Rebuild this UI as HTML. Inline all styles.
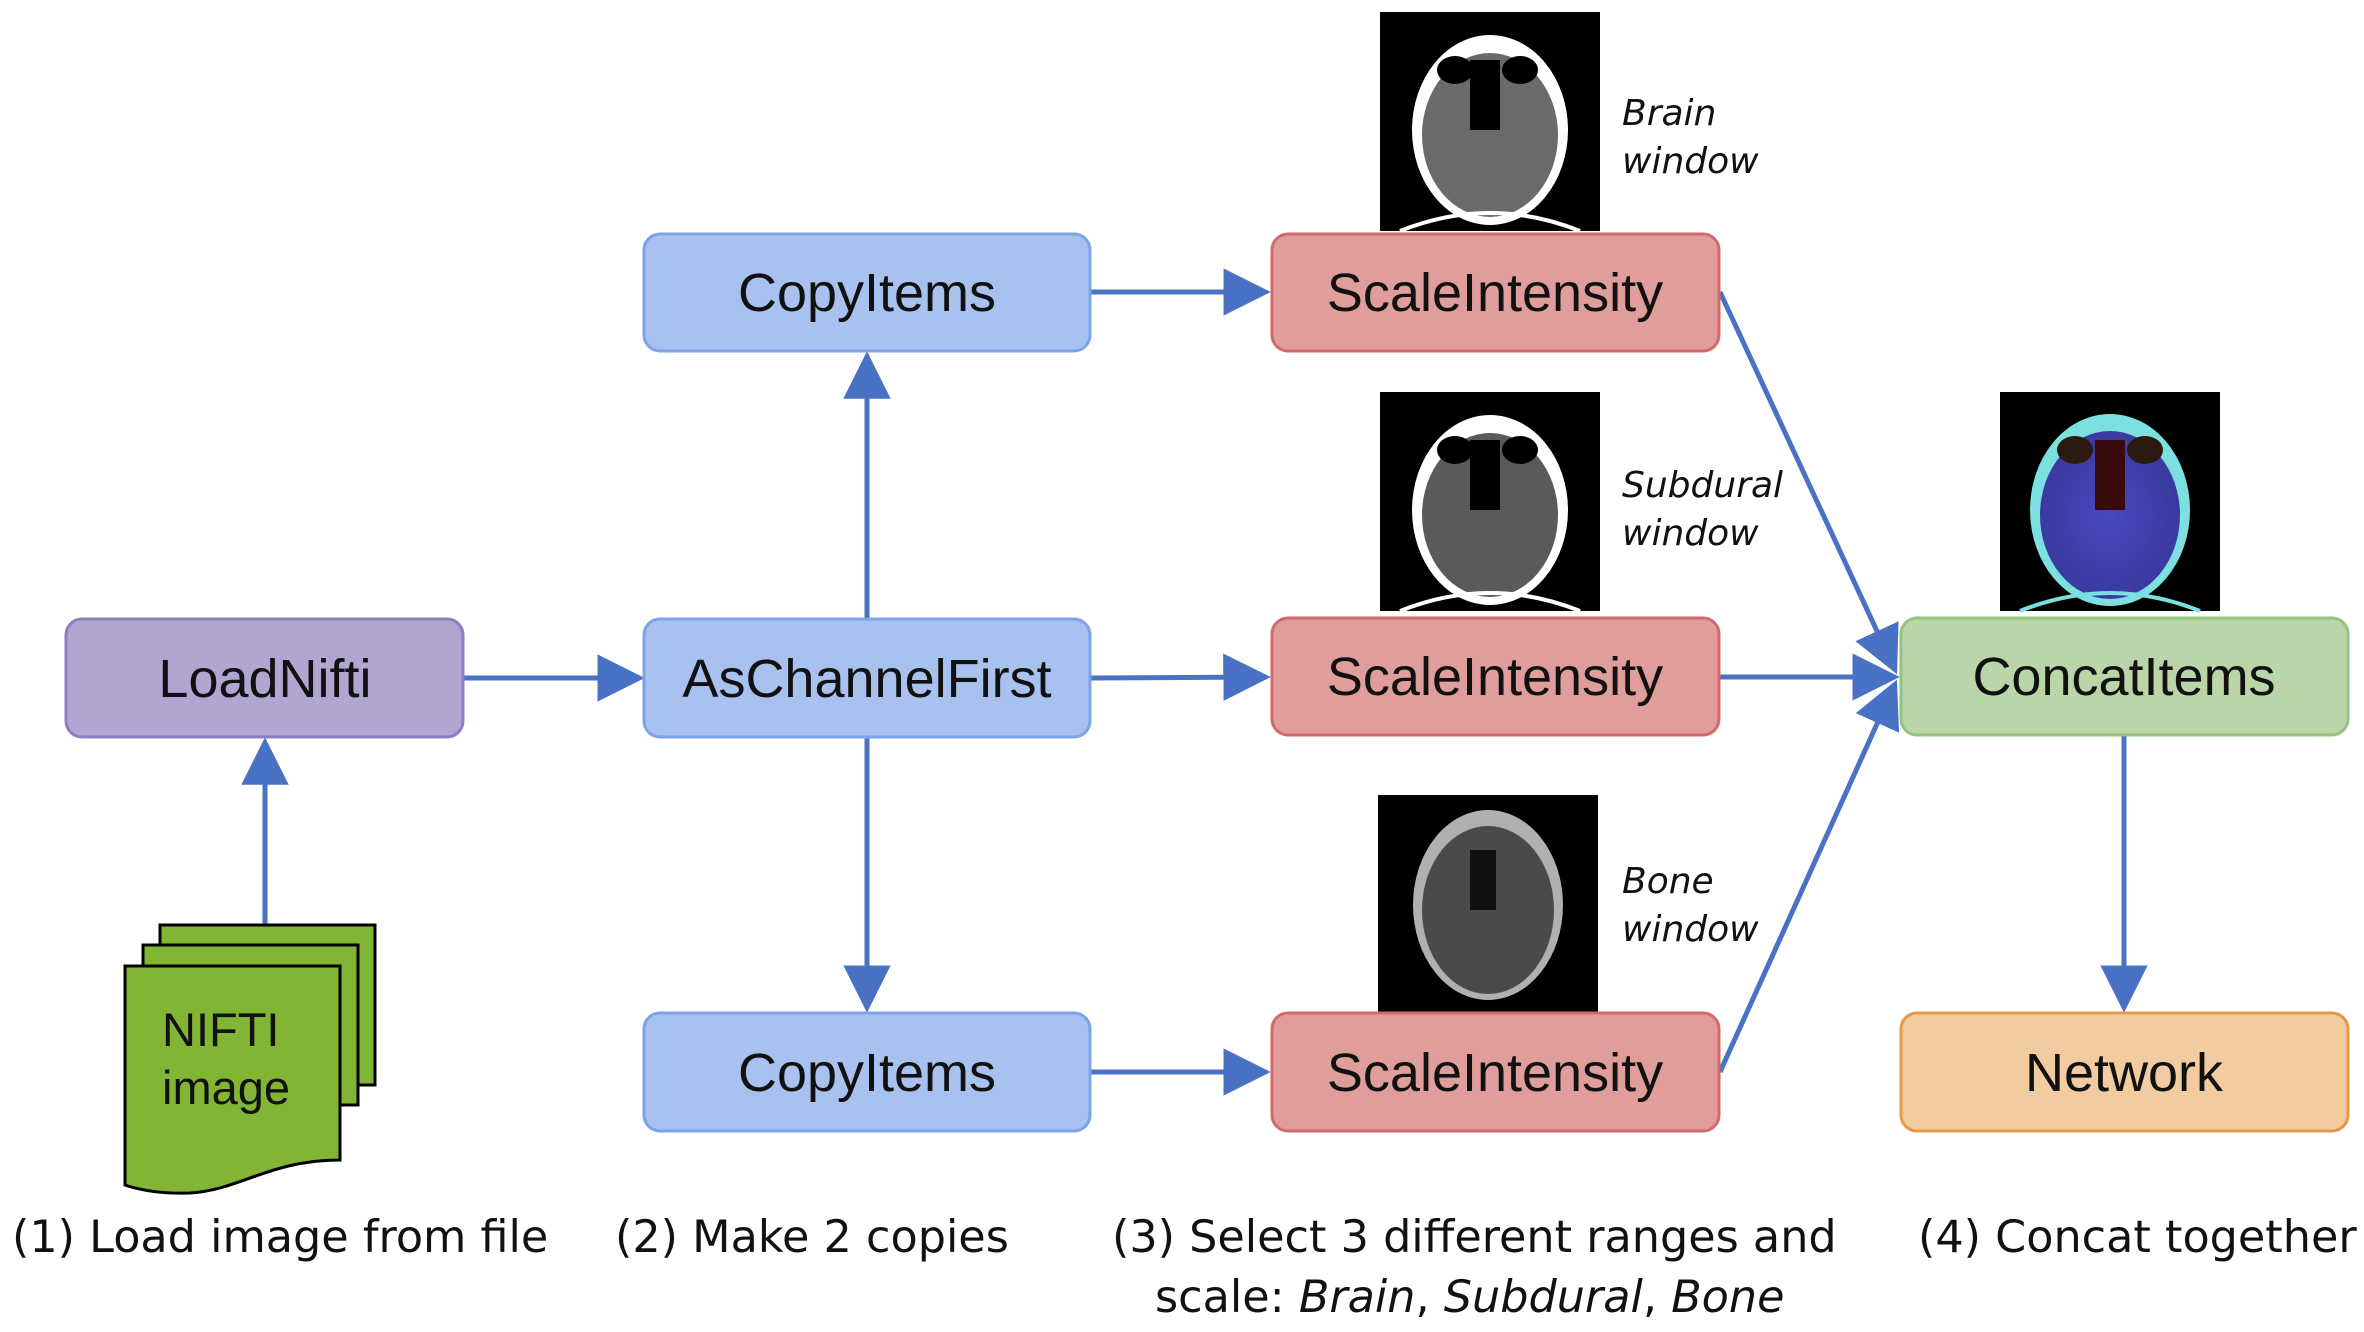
<!DOCTYPE html>
<html><head><meta charset="utf-8"><style>
body{margin:0;background:#fff;}
svg{display:block}
.b{font-family:"Liberation Sans",Arial,sans-serif;font-size:54px;fill:#111;text-anchor:middle;dominant-baseline:central}
.c{font-family:"DejaVu Sans",sans-serif;font-size:44.5px;fill:#111}
.i{font-family:"DejaVu Sans",sans-serif;font-size:36px;font-style:italic;fill:#111}
</style></head><body>
<svg width="2364" height="1332" viewBox="0 0 2364 1332" xmlns="http://www.w3.org/2000/svg">
<defs>
<marker id="ah" viewBox="0 0 10 10" refX="9" refY="5" markerWidth="9.5" markerHeight="9.5" orient="auto"><path d="M0,0 L10,5 L0,10 z" fill="#4a72c4"/></marker>
<radialGradient id="g2"><stop offset="0" stop-color="#4848c0"/><stop offset="1" stop-color="#3a3aa0"/></radialGradient>
</defs>
<g stroke="#4a72c4" stroke-width="5" fill="none" marker-end="url(#ah)">
<line x1="463" y1="678" x2="640" y2="678"/>
<line x1="265" y1="925" x2="265" y2="742"/>
<line x1="867" y1="618" x2="867" y2="356"/>
<line x1="867" y1="737" x2="867" y2="1008"/>
<line x1="1090" y1="292" x2="1266" y2="292"/>
<line x1="1090" y1="678" x2="1266" y2="677"/>
<line x1="1090" y1="1072" x2="1266" y2="1072"/>
<line x1="1720" y1="292" x2="1895" y2="670"/>
<line x1="1720" y1="677" x2="1895" y2="677"/>
<line x1="1720" y1="1072" x2="1895" y2="684"/>
<line x1="2124" y1="734" x2="2124" y2="1008"/>
</g>
<g>
<rect x="1380" y="12" width="220" height="219" fill="#000"/>
<ellipse cx="1490" cy="130" rx="78" ry="95" fill="#fff"/><ellipse cx="1490" cy="135" rx="68" ry="82" fill="#6a6a6a"/>
<rect x="1470" y="60" width="30" height="70" fill="#000"/><ellipse cx="1455" cy="70" rx="18" ry="14" fill="#000"/><ellipse cx="1520" cy="70" rx="18" ry="14" fill="#000"/>
<path d="M1400,231 Q1490,195 1580,231" stroke="#fff" stroke-width="4" fill="none"/>
<rect x="1380" y="392" width="220" height="219" fill="#000"/>
<ellipse cx="1490" cy="510" rx="78" ry="95" fill="#fff"/><ellipse cx="1490" cy="515" rx="68" ry="82" fill="#5a5a5a"/>
<rect x="1470" y="440" width="30" height="70" fill="#000"/><ellipse cx="1455" cy="450" rx="18" ry="14" fill="#000"/><ellipse cx="1520" cy="450" rx="18" ry="14" fill="#000"/>
<path d="M1400,611 Q1490,575 1580,611" stroke="#fff" stroke-width="4" fill="none"/>
<rect x="1378" y="795" width="220" height="217" fill="#000"/>
<ellipse cx="1488" cy="905" rx="75" ry="95" fill="#b0b0b0"/><ellipse cx="1488" cy="910" rx="66" ry="84" fill="#4a4a4a"/>
<rect x="1470" y="850" width="26" height="60" fill="#111"/>
<rect x="2000" y="392" width="220" height="219" fill="#000"/>
<ellipse cx="2110" cy="510" rx="80" ry="96" fill="#7de0e0"/><ellipse cx="2110" cy="515" rx="70" ry="84" fill="url(#g2)"/>
<rect x="2095" y="440" width="30" height="70" fill="#3a0a0a"/><ellipse cx="2075" cy="450" rx="18" ry="14" fill="#2a1a10"/><ellipse cx="2145" cy="450" rx="18" ry="14" fill="#2a1a10"/>
<path d="M2020,611 Q2110,575 2200,611" stroke="#7de0e0" stroke-width="4" fill="none"/>
</g>
<g stroke-width="3">
<rect x="66" y="619" width="397" height="118" rx="16" fill="#b1a6d2" stroke="#8e7fc0"/>
<rect x="644" y="619" width="446" height="118" rx="16" fill="#a9c1ef" stroke="#7da2e8"/>
<rect x="644" y="234" width="446" height="117" rx="16" fill="#a9c1ef" stroke="#7da2e8"/>
<rect x="644" y="1013" width="446" height="118" rx="16" fill="#a9c1ef" stroke="#7da2e8"/>
<rect x="1272" y="234" width="447" height="117" rx="16" fill="#df9d9b" stroke="#d46a67"/>
<rect x="1272" y="618" width="447" height="117" rx="16" fill="#df9d9b" stroke="#d46a67"/>
<rect x="1272" y="1013" width="447" height="118" rx="16" fill="#df9d9b" stroke="#d46a67"/>
<rect x="1901" y="618" width="447" height="117" rx="16" fill="#bad6a9" stroke="#93c47d"/>
<rect x="1901" y="1013" width="447" height="118" rx="16" fill="#f2cba0" stroke="#e39a48"/>
</g>
<text class="b" x="265" y="679">LoadNifti</text>
<text class="b" x="867" y="679">AsChannelFirst</text>
<text class="b" x="867" y="293">CopyItems</text>
<text class="b" x="867" y="1073">CopyItems</text>
<text class="b" x="1495" y="293">ScaleIntensity</text>
<text class="b" x="1495" y="677">ScaleIntensity</text>
<text class="b" x="1495" y="1073">ScaleIntensity</text>
<text class="b" x="2124" y="677">ConcatItems</text>
<text class="b" x="2124" y="1073">Network</text>
<g fill="#83b535" stroke="#000" stroke-width="3">
<rect x="160" y="925" width="215" height="160"/>
<rect x="143" y="945" width="215" height="160"/>
<path d="M125,966 H340 V1160 C270,1160 240,1190 190,1193 C160,1194 140,1190 125,1185 Z"/>
</g>
<text x="162" y="1046" style="font-family:'Liberation Sans',sans-serif;font-size:47px;fill:#111">NIFTI</text>
<text x="162" y="1104" style="font-family:'Liberation Sans',sans-serif;font-size:47px;fill:#111">image</text>
<text class="i" x="1622" y="125">Brain</text>
<text class="i" x="1622" y="173">window</text>
<text class="i" x="1622" y="497">Subdural</text>
<text class="i" x="1622" y="545">window</text>
<text class="i" x="1622" y="893">Bone</text>
<text class="i" x="1622" y="941">window</text>
<text class="c" x="12" y="1252">(1) Load image from file</text>
<text class="c" x="615" y="1252">(2) Make 2 copies</text>
<text class="c" x="1112" y="1252">(3) Select 3 different ranges and</text>
<text class="c" x="1155" y="1312">scale: <tspan font-style="italic">Brain</tspan>, <tspan font-style="italic">Subdural</tspan>, <tspan font-style="italic">Bone</tspan></text>
<text class="c" x="1918" y="1252">(4) Concat together</text>
</svg>
</body></html>
